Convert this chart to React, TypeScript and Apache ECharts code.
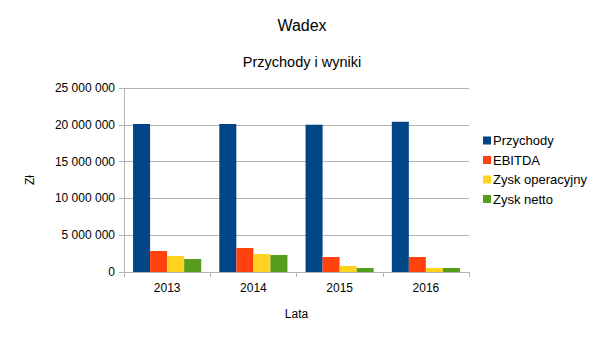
import React, { useEffect, useRef } from "react";
import * as echarts from "echarts";

const years = ["2013", "2014", "2015", "2016"];
const przychody = [20100000, 20100000, 20000000, 20400000];
const ebitda = [2850000, 3260000, 2040000, 2040000];
const zyskOperacyjny = [2170000, 2450000, 820000, 540000];
const zyskNetto = [1770000, 2310000, 540000, 540000];

const seriesNames = ["Przychody", "EBITDA", "Zysk operacyjny", "Zysk netto"];
const seriesData = [przychody, ebitda, zyskOperacyjny, zyskNetto];
const colors = ["#004586", "#ff420e", "#ffd320", "#579d1c"];

const font = "'Liberation Sans', Arial, sans-serif";

function fmt(v: number): string {
  return String(Math.round(v)).replace(/\B(?=(\d{3})+(?!\d))/g, " ");
}

export default function App() {
  const ref = useRef<HTMLDivElement>(null);
  useEffect(() => {
    if (!ref.current) return;
    const chart = echarts.init(ref.current, undefined, { renderer: "svg" });
    chart.setOption({
      animation: false,
      color: colors,
      textStyle: { fontFamily: font },
      title: [
        {
          text: "Wadex",
          left: 297,
          textAlign: "center",
          top: 12,
          textStyle: { fontFamily: font, fontSize: 16, fontWeight: "normal", color: "#000" },
        },
        {
          text: "Przychody i wyniki",
          left: 297,
          textAlign: "center",
          top: 49,
          textStyle: { fontFamily: font, fontSize: 14.5, fontWeight: "normal", color: "#000" },
        },
      ],
      legend: {
        orient: "vertical",
        left: 478,
        top: 129,
        itemWidth: 8,
        itemHeight: 8,
        itemGap: 6.5,
        icon: "rect",
        textStyle: { fontFamily: font, fontSize: 13, color: "#000", padding: [0, 0, 0, -3] },
        data: seriesNames,
      },
      grid: { left: 124, right: 136, top: 88, bottom: 68, containLabel: false },
      xAxis: {
        type: "category",
        data: years,
        name: "Lata",
        nameLocation: "middle",
        nameGap: 36,
        nameTextStyle: { fontFamily: font, fontSize: 12, color: "#000" },
        axisLine: { lineStyle: { color: "#b3b3b3" } },
        axisTick: { show: true, length: 5, lineStyle: { color: "#b3b3b3" } },
        axisLabel: { fontFamily: font, fontSize: 12, color: "#000", margin: 10 },
      },
      yAxis: {
        type: "value",
        min: 0,
        max: 25000000,
        interval: 5000000,
        name: "Zł",
        nameLocation: "middle",
        nameGap: 88,
        nameRotate: 90,
        nameTextStyle: { fontFamily: font, fontSize: 12, color: "#000" },
        axisLine: { show: true, lineStyle: { color: "#b3b3b3" } },
        axisTick: { show: true, length: 5, lineStyle: { color: "#b3b3b3" } },
        axisLabel: { fontFamily: font, fontSize: 12, color: "#000", margin: 9, formatter: (v: number) => fmt(v) },
        splitLine: { lineStyle: { color: "#b3b3b3" } },
      },
      series: seriesNames.map((name, i) => ({
        name,
        type: "bar",
        data: seriesData[i],
        barGap: "0%",
        barCategoryGap: "21%",
        itemStyle: { color: colors[i] },
      })),
    });
    return () => chart.dispose();
  }, []);
  return <div ref={ref} style={{ width: 605, height: 340, position: "absolute", left: 0, top: 0 }} />;
}
